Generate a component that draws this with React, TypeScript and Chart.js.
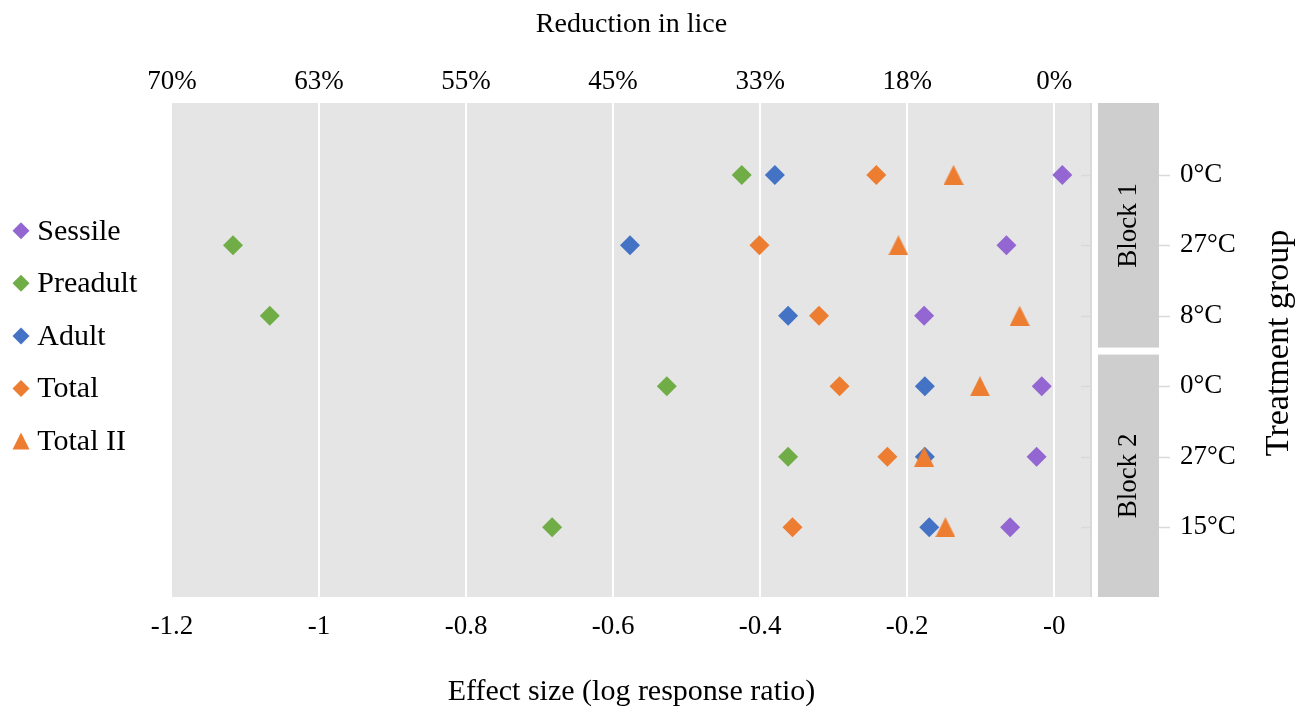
import React, { useEffect, useRef } from 'react';
import { Chart, registerables } from 'chart.js';

Chart.register(...registerables);

// ---------- data ----------
const ROW_POSITIONS = [1, 2, 3, 4, 5, 6];
const TREATMENT_LABELS = ['0°C', '27°C', '8°C', '0°C', '27°C', '15°C'];
const BLOCK_LABELS = ['Block 1', 'Block 2'];
const BLOCK_SPANS = [
  [-0.02, 3.5],
  [3.5, 6.99],
];

const SERIES_NAMES = ['Sessile', 'Preadult', 'Adult', 'Total', 'Total II'];
const SERIES_COLORS = ['#9366d1', '#70ad47', '#4472c4', '#ed7d31', '#ed7d31'];

const SESSILE = [0.011, -0.065, -0.177, -0.017, -0.024, -0.06];
const PREADULT = [-0.425, -1.117, -1.067, -0.527, -0.362, -0.683];
const ADULT = [-0.38, -0.577, -0.362, -0.176, -0.176, -0.17];
const TOTAL = [-0.242, -0.401, -0.32, -0.292, -0.227, -0.356];
const TOTAL_II = [-0.137, -0.212, -0.047, -0.101, -0.177, -0.148];

const X_MIN = -1.2;
const X_MAX = 0.05;
const Y_MIN = -0.02;
const Y_MAX = 6.99;
const X_TICKS = [-1.2, -1, -0.8, -0.6, -0.4, -0.2, 0];
const X_TICK_LABELS = ['-1.2', '-1', '-0.8', '-0.6', '-0.4', '-0.2', '-0'];
const REDUCTION_LABELS = ['70%', '63%', '55%', '45%', '33%', '18%', '0%'];

// ---------- styles ----------
const FONT = '"Liberation Serif", "Times New Roman", serif';
const TEXT = '#000000';
const PLOT_BG = '#e5e5e5';
const STRIP_BG = '#cfcece';
const AXIS_GREY = '#d9d9d9';

function makeTriangle(w: number, h: number, color: string) {
  const c = document.createElement('canvas');
  c.width = w;
  c.height = h;
  const g = c.getContext('2d')!;
  g.fillStyle = color;
  g.beginPath();
  g.moveTo(w / 2, 0);
  g.lineTo(w, h);
  g.lineTo(0, h);
  g.closePath();
  g.fill();
  return c;
}

function zeroPadding(s: any) {
  s.paddingTop = 0;
  s.paddingBottom = 0;
  s.paddingLeft = 0;
  s.paddingRight = 0;
}

const chromePlugin = {
  id: 'chrome',
  beforeDraw(chart: any) {
    const { ctx, chartArea: a } = chart;
    ctx.save();
    ctx.fillStyle = PLOT_BG;
    ctx.fillRect(a.left, a.top, a.right - a.left, a.bottom - a.top);
    ctx.restore();
  },
  afterDraw(chart: any) {
    const { ctx, chartArea: a, scales } = chart;
    const y = scales.y;
    ctx.save();

    // axis line + inner stubs
    ctx.strokeStyle = AXIS_GREY;
    ctx.lineWidth = 2;
    ctx.beginPath();
    ctx.moveTo(a.right, a.top);
    ctx.lineTo(a.right, a.bottom);
    ctx.stroke();
    ROW_POSITIONS.forEach((v) => {
      const py = Math.round(y.getPixelForValue(v)) + 0.5;
      ctx.lineWidth = 1.5;
      ctx.beginPath();
      ctx.moveTo(a.right - 10, py);
      ctx.lineTo(a.right, py);
      ctx.stroke();
    });

    // facet strips
    const sx = a.right + 7;
    const sw = 61;
    BLOCK_SPANS.forEach(([s, e], i) => {
      let y0 = y.getPixelForValue(s);
      let y1 = y.getPixelForValue(e);
      if (i > 0) y0 += 3.5;
      if (i < BLOCK_SPANS.length - 1) y1 -= 3.5;
      ctx.fillStyle = STRIP_BG;
      ctx.fillRect(sx, y0, sw, y1 - y0);
      ctx.save();
      ctx.translate(sx + sw / 2, (y0 + y1) / 2);
      ctx.rotate(-Math.PI / 2);
      ctx.fillStyle = TEXT;
      ctx.font = `27px ${FONT}`;
      ctx.textAlign = 'center';
      ctx.textBaseline = 'middle';
      ctx.fillText(BLOCK_LABELS[i], 0, 0);
      ctx.restore();
    });

    // outer tick marks
    ctx.strokeStyle = AXIS_GREY;
    ctx.lineWidth = 1.5;
    ROW_POSITIONS.forEach((v) => {
      const py = Math.round(y.getPixelForValue(v)) + 0.5;
      ctx.beginPath();
      ctx.moveTo(sx + sw, py);
      ctx.lineTo(sx + sw + 11, py);
      ctx.stroke();
    });

    // right axis title
    ctx.save();
    ctx.translate(1279, 343);
    ctx.rotate(-Math.PI / 2);
    ctx.fillStyle = TEXT;
    ctx.font = `34px ${FONT}`;
    ctx.textAlign = 'center';
    ctx.textBaseline = 'middle';
    ctx.fillText('Treatment group', 0, 0);
    ctx.restore();

    // legend
    const lx = 21;
    const ly0 = 230.7;
    const lstep = 52.6;
    ctx.font = `30px ${FONT}`;
    ctx.textBaseline = 'middle';
    ctx.textAlign = 'left';
    SERIES_NAMES.forEach((name, i) => {
      const cy = ly0 + i * lstep;
      ctx.fillStyle = SERIES_COLORS[i];
      ctx.beginPath();
      if (i === 4) {
        ctx.moveTo(lx, cy - 8.5);
        ctx.lineTo(lx + 8.5, cy + 8.5);
        ctx.lineTo(lx - 8.5, cy + 8.5);
      } else {
        ctx.moveTo(lx, cy - 8.5);
        ctx.lineTo(lx + 8.5, cy);
        ctx.lineTo(lx, cy + 8.5);
        ctx.lineTo(lx - 8.5, cy);
      }
      ctx.closePath();
      ctx.fill();
      ctx.fillStyle = TEXT;
      ctx.fillText(name, 37.3, cy + 1);
    });

    ctx.restore();
  },
};

export default function App() {
  const ref = useRef<HTMLCanvasElement>(null);

  useEffect(() => {
    const canvas = ref.current;
    if (!canvas) return;
    const tri = makeTriangle(20, 20, SERIES_COLORS[4]);
    const seriesValues = [SESSILE, PREADULT, ADULT, TOTAL, TOTAL_II];
    const datasets = SERIES_NAMES.map((name, i) => ({
      label: name,
      data: seriesValues[i].map((v, r) => ({ x: v, y: ROW_POSITIONS[r] })),
      backgroundColor: SERIES_COLORS[i],
      borderColor: SERIES_COLORS[i],
      borderWidth: 0,
      pointStyle: i === 4 ? (tri as any) : 'rectRot',
      pointRadius: 10,
      pointHoverRadius: 10,
      order: SERIES_NAMES.length - i,
    }));

    const tickFont = { family: FONT, size: 27 };

    const chart = new Chart(canvas, {
      type: 'scatter',
      data: { datasets: datasets as any },
      options: {
        animation: false,
        responsive: true,
        maintainAspectRatio: false,
        devicePixelRatio: 1,
        events: [],
        layout: { padding: { left: 172, right: 0, top: 0, bottom: 0 } },
        plugins: {
          legend: { display: false },
          tooltip: { enabled: false },
        },
        scales: {
          x: {
            type: 'linear',
            position: 'bottom',
            min: X_MIN,
            max: X_MAX,
            afterBuildTicks: (s: any) => {
              s.ticks = X_TICKS.map((v) => ({ value: v }));
            },
            afterFit: (s: any) => {
              s.height = 110;
              zeroPadding(s);
            },
            grid: {
              color: (c: any) => (c.tick && c.tick.value === X_MIN ? 'rgba(0,0,0,0)' : '#ffffff'),
              lineWidth: 2,
              drawTicks: false,
            },
            border: { display: false },
            ticks: {
              padding: 14,
              font: tickFont,
              color: TEXT,
              maxRotation: 0,
              autoSkip: false,
              callback: (_v: any, i: number) => X_TICK_LABELS[i],
            },
            title: {
              display: true,
              text: 'Effect size (log response ratio)',
              font: { family: FONT, size: 30 },
              color: TEXT,
              padding: { top: 0, bottom: -3 },
            },
          },
          x2: {
            type: 'linear',
            position: 'top',
            min: X_MIN,
            max: X_MAX,
            afterBuildTicks: (s: any) => {
              s.ticks = X_TICKS.map((v) => ({ value: v }));
            },
            afterFit: (s: any) => {
              s.height = 103;
              zeroPadding(s);
            },
            grid: { display: false, drawTicks: false },
            border: { display: false },
            ticks: {
              padding: 5,
              font: tickFont,
              color: TEXT,
              maxRotation: 0,
              autoSkip: false,
              callback: (_v: any, i: number) => REDUCTION_LABELS[i],
            },
            title: {
              display: true,
              text: 'Reduction in lice',
              font: { family: FONT, size: 28 },
              color: TEXT,
              padding: { top: 8, bottom: 0 },
            },
          },
          y: {
            type: 'linear',
            position: 'right',
            reverse: true,
            min: Y_MIN,
            max: Y_MAX,
            afterBuildTicks: (s: any) => {
              s.ticks = ROW_POSITIONS.map((v) => ({ value: v }));
            },
            afterFit: (s: any) => {
              s.width = 224;
              zeroPadding(s);
            },
            grid: { display: false, drawTicks: false },
            border: { display: false },
            ticks: {
              padding: 89,
              font: tickFont,
              color: TEXT,
              autoSkip: false,
              callback: (_v: any, i: number) => TREATMENT_LABELS[i],
            },
          },
        },
      } as any,
      plugins: [chromePlugin as any],
    });

    return () => chart.destroy();
  }, []);

  return (
    <div style={{ position: 'absolute', left: 0, top: 0, width: 1315, height: 707 }}>
      <canvas ref={ref} />
    </div>
  );
}
